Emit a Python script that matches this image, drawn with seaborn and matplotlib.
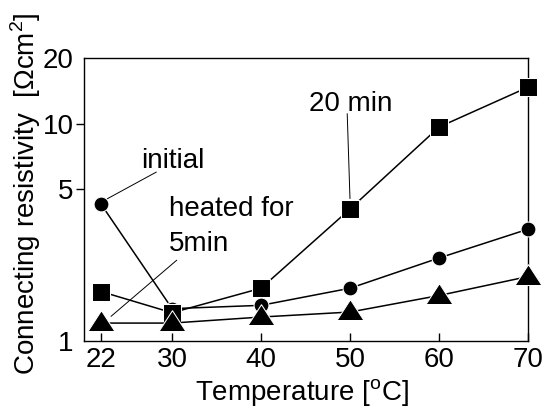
import seaborn as sns
import matplotlib.pyplot as plt
import pandas as pd

temps = [22, 30, 40, 50, 60, 70]
initial = [4.27, 1.41, 1.46, 1.75, 2.41, 3.27]
min20 = [1.69, 1.35, 1.75, 4.05, 9.64, 14.7]
min5 = [1.21, 1.21, 1.29, 1.36, 1.62, 1.98]

yticks = [1, 5, 10, 20]

sns.set_style('ticks')
plt.rcParams['font.family'] = ['Liberation Sans', 'DejaVu Sans']
plt.rcParams['mathtext.fontset'] = 'custom'
plt.rcParams['mathtext.rm'] = 'Liberation Sans'
for key in ('text.color', 'axes.labelcolor', 'xtick.color', 'ytick.color'):
    plt.rcParams[key] = 'black'

fs = 20
fig = plt.figure(figsize=(5.47, 4.08), dpi=100)
ax = fig.add_axes([0.1536, 0.164, 0.8117, 0.6936])

df = pd.DataFrame({'temp': temps, 'initial': initial, '20 min': min20, '5min': min5})

# wide, flat triangle whose anchor sits a bit below its middle
tri = [(0, 1.6), (-1.68, -1), (1.68, -1), (0, 1.6)]

# one call per series so each gets its own marker size
sns.lineplot(data=df, x='temp', y='initial', marker='o', markersize=10.7, color='k',
             lw=1.1, ax=ax, clip_on=False, zorder=3)
sns.lineplot(data=df, x='temp', y='20 min', marker='s', markersize=12.3, color='k',
             lw=1.1, ax=ax, clip_on=False, zorder=3)
sns.lineplot(data=df, x='temp', y='5min', marker=tri, markersize=19.4, color='k',
             lw=1.1, ax=ax, clip_on=False, zorder=3)

ax.set_yscale('log')
ax.set_ylim(1, 20)
ax.set_xlim(20.1, 70)
ax.set_yticks(yticks)
ax.set_yticklabels([str(t) for t in yticks])
ax.minorticks_off()
ax.set_xticks(temps)
ax.tick_params(axis='x', direction='in', length=6, width=1, labelsize=fs, pad=4)
ax.tick_params(axis='y', direction='out', length=6, width=1, labelsize=fs, pad=1.5)
# no tick marks at the ends of the y axis
for i in (0, len(yticks) - 1):
    ax.yaxis.get_major_ticks()[i].tick1line.set_visible(False)
for s in ax.spines.values():
    s.set_linewidth(1)
    s.set_color('k')

ax.set_xlabel('Temperature [$^\\mathregular{o}$C]', fontsize=fs)
ax.set_ylabel('Connecting resistivity  [\u03a9cm$^\\mathregular{2}$]', fontsize=fs)
ax.xaxis.set_label_coords(0.49, -0.128)
ax.yaxis.set_label_coords(-0.092, 0.52)

# labels with leader lines
ax.text(26.56, 6.22, 'initial', fontsize=fs, ha='left', va='baseline')
ax.annotate('', xy=(22.45, 4.45), xytext=(28.5, 6.07),
            arrowprops=dict(arrowstyle='-', lw=0.7, color='k'))
ax.text(29.64, 3.76, 'heated for', fontsize=fs, ha='left', va='baseline')
ax.text(29.64, 2.59, '5min', fontsize=fs, ha='left', va='baseline')
ax.annotate('', xy=(22.9, 1.275), xytext=(30.76, 2.40),
            arrowprops=dict(arrowstyle='-', lw=0.7, color='k'))
ax.text(45.4, 11.4, '20 min', fontsize=fs, ha='left', va='baseline')
ax.annotate('', xy=(50.0, 4.39), xytext=(49.67, 11.44),
            arrowprops=dict(arrowstyle='-', lw=0.7, color='k'))

if ax.get_legend():
    ax.get_legend().remove()

fig.savefig('out.png', dpi=100)
